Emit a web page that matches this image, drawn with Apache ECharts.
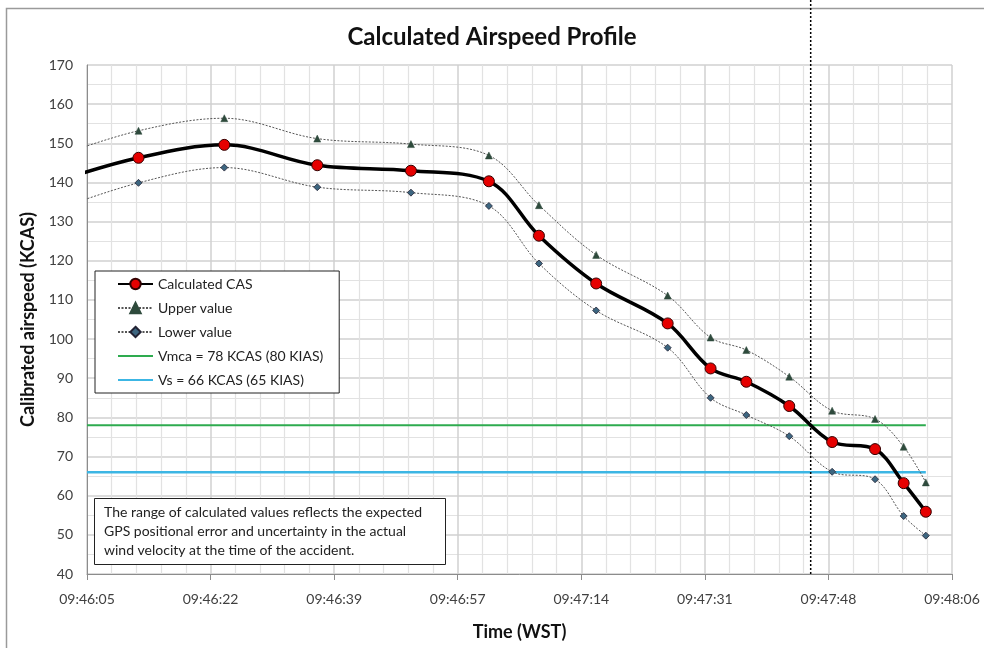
<!DOCTYPE html>
<html>
<head>
<meta charset="utf-8">
<script src="https://cdn.jsdelivr.net/npm/echarts@6/dist/echarts.min.js"></script>
<style>
  html, body { margin: 0; padding: 0; background: #fff; }
  #main { width: 984px; height: 648px; }
</style>
</head>
<body>
<div id="main"></div>
<script>
// seconds after 09:46:05.2 (WST)
var baseSec = 9 * 3600 + 46 * 60 + 5.2;
var times = [-5, 7.2, 19.2, 32.2, 45.3, 56.2, 63.2, 71.2, 81.2, 87.2, 92.2, 98.2, 104.2, 110.2, 114.2, 117.3];
var casValues = [139.8, 146.3, 149.6, 144.4, 143.0, 140.3, 126.4, 114.2, 104.0, 92.5, 89.1, 82.9, 73.7, 71.9, 63.2, 55.9];
var upperValues = [146.2, 153.2, 156.4, 151.2, 149.8, 146.9, 134.2, 121.5, 111.1, 100.4, 97.2, 90.4, 81.7, 79.6, 72.5, 63.4];
var lowerValues = [132.6, 139.9, 143.8, 138.8, 137.4, 134.0, 119.3, 107.3, 97.8, 85.0, 80.6, 75.2, 66.1, 64.2, 54.8, 49.8];
var vmca = 78;
var vs = 66;
var refEnd = 117.3;
var accidentTime = 101.2;

function pairs(vals) {
  return vals.map(function (v, i) { return [times[i], v]; });
}

function fmtTime(v) {
  var s = Math.floor(baseSec + v + 1e-6);
  var h = Math.floor(s / 3600), m = Math.floor((s % 3600) / 60), sec = s % 60;
  var p = function (n) { return (n < 10 ? '0' : '') + n; };
  return p(h) + ':' + p(m) + ':' + p(sec);
}

var font = 'Lato';
var myChart = echarts.init(document.getElementById('main'));

var option = {
  backgroundColor: '#fff',
  textStyle: { fontFamily: font },
  animation: false,
  title: [{
    text: 'Calculated Airspeed Profile',
    left: 'center',
    top: 20,
    textStyle: { fontFamily: font, fontSize: 24, fontWeight: 'bold', color: '#111' }
  }, {
    text: 'The range of calculated values reflects the expected\nGPS positional error and uncertainty in the actual\nwind velocity at the time of the accident.',
    left: 94,
    top: 498,
    borderColor: '#222',
    borderWidth: 1,
    backgroundColor: '#fff',
    padding: [5, 24, 5, 10],
    textStyle: { fontFamily: font, fontSize: 14, fontWeight: 'normal', color: '#222', lineHeight: 19 }
  }],
  legend: {
    orient: 'vertical',
    left: 95,
    top: 271,
    padding: [6, 16, 6, 22],
    itemGap: 10,
    itemWidth: 35,
    itemHeight: 13,
    borderColor: '#222',
    borderWidth: 1,
    backgroundColor: '#fff',
    textStyle: { fontFamily: font, fontSize: 14, color: '#222' },
    data: [
      'Calculated CAS',
      'Upper value',
      'Lower value',
      { name: 'Vmca = 78 KCAS (80 KIAS)', itemStyle: { opacity: 0 } },
      { name: 'Vs = 66 KCAS (65 KIAS)', itemStyle: { opacity: 0 } }
    ]
  },
  grid: { left: 87, right: 32, top: 65, bottom: 74 },
  xAxis: {
    type: 'value',
    min: 0,
    max: 120.96,
    interval: 17.28,
    name: 'Time (WST)',
    nameLocation: 'middle',
    nameGap: 49,
    nameTextStyle: { fontFamily: font, fontSize: 18, fontWeight: 'bold', color: '#111' },
    axisLine: { lineStyle: { color: '#8c8c8c', width: 1 } },
    axisTick: { show: true, length: 6, lineStyle: { color: '#8c8c8c' } },
    minorTick: { show: false, splitNumber: 5 },
    axisLabel: { formatter: fmtTime, fontSize: 14, color: '#404040', margin: 18 },
    splitLine: { show: true, lineStyle: { color: '#d0d0d0', width: 1.5 } },
    minorSplitLine: { show: true, lineStyle: { color: '#e2e2e2', width: 1.2 } }
  },
  yAxis: {
    type: 'value',
    min: 40,
    max: 170,
    interval: 10,
    name: 'Calibrated airspeed (KCAS)',
    nameLocation: 'middle',
    nameGap: 50,
    nameTextStyle: { fontFamily: font, fontSize: 18, fontWeight: 'bold', color: '#111' },
    axisLine: { show: true, lineStyle: { color: '#8c8c8c', width: 1 } },
    axisTick: { show: false },
    minorTick: { show: false, splitNumber: 2 },
    axisLabel: { fontSize: 14, color: '#404040', margin: 14 },
    splitLine: { show: true, lineStyle: { color: '#d0d0d0', width: 1.5 } },
    minorSplitLine: { show: true, lineStyle: { color: '#e2e2e2', width: 1.2 } }
  },
  series: [{
    name: 'Vmca = 78 KCAS (80 KIAS)',
    type: 'line',
    data: [[0, vmca], [refEnd, vmca]],
    symbol: 'none',
    lineStyle: { color: '#2eab4f', width: 2 },
    itemStyle: { color: '#2eab4f' },
    z: 2
  }, {
    name: 'Vs = 66 KCAS (65 KIAS)',
    type: 'line',
    data: [[0, vs], [refEnd, vs]],
    symbol: 'none',
    lineStyle: { color: '#3cb6e4', width: 2.5 },
    itemStyle: { color: '#3cb6e4' },
    z: 2
  }, {
    name: 'Upper value',
    type: 'line',
    data: pairs(upperValues),
    smooth: 0.35,
    symbol: 'triangle',
    symbolSize: 7,
    lineStyle: { color: '#555', width: 1, type: [2, 1.5] },
    itemStyle: { color: '#2e4a3c', borderColor: '#2e4a3c', borderWidth: 0.5 },
    z: 3
  }, {
    name: 'Lower value',
    type: 'line',
    data: pairs(lowerValues),
    smooth: 0.35,
    symbol: 'diamond',
    symbolSize: 7,
    lineStyle: { color: '#555', width: 1, type: [2, 1.5] },
    itemStyle: { color: '#3d6680', borderColor: '#223', borderWidth: 0.8 },
    z: 3
  }, {
    name: 'Calculated CAS',
    type: 'line',
    data: pairs(casValues),
    smooth: 0.35,
    symbol: 'circle',
    symbolSize: 11,
    lineStyle: { color: '#000', width: 3.5 },
    itemStyle: { color: '#e60000', borderColor: '#300', borderWidth: 1 },
    z: 4
  }]
};

myChart.setOption(option);

// accident marker: dotted vertical line from the top of the page down to the x axis
var bottomPt = myChart.convertToPixel({ gridIndex: 0 }, [accidentTime, 40]);
myChart.setOption({
  graphic: [{
    type: 'rect',
    shape: { x: 6.5, y: 8.5, width: 1000, height: 700 },
    style: { fill: 'none', stroke: '#9a9a9a', lineWidth: 1.5 },
    silent: true,
    z: -1
  }, {
    type: 'line',
    shape: { x1: bottomPt[0], y1: 0, x2: bottomPt[0], y2: bottomPt[1] },
    style: { stroke: '#000', lineWidth: 1.5, lineDash: [2, 2] },
    silent: true,
    z: 10
  }]
});
</script>
</body>
</html>
